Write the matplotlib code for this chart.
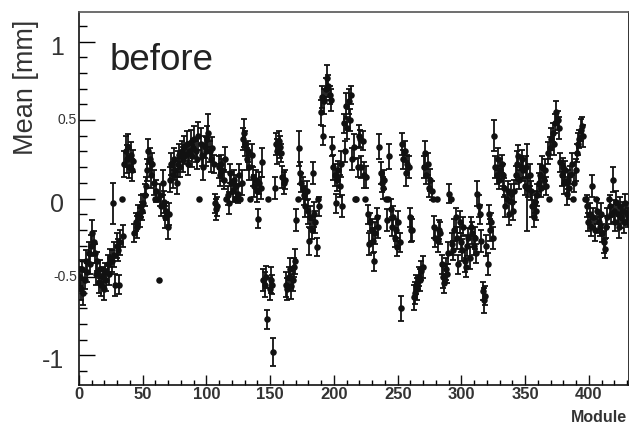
import matplotlib
matplotlib.use("Agg")

import numpy as np
import matplotlib.pyplot as plt
from matplotlib.ticker import MultipleLocator

plt.rcParams["font.family"] = ["Liberation Sans", "DejaVu Sans"]

# ── data: mean residual per module ────────────────────────────────────────────
MEAN = [
    -0.50, -0.58, -0.45, -0.60, -0.52, -0.40, -0.47, -0.35, -0.42, -0.30,
    -0.22, -0.28, -0.35, -0.48, -0.40, -0.53, -0.45, -0.55, -0.50, -0.58,
    -0.47, -0.52, -0.42, -0.48, -0.38, -0.40, -0.03, -0.36, -0.55, -0.30,
    -0.33, -0.55, -0.28, 0.00, -0.24, 0.22, 0.30, 0.25, 0.33, 0.20,
    0.28, 0.18, 0.24, -0.22, -0.15, -0.18, -0.10, -0.12, -0.05, -0.08,
    -0.03, 0.02, 0.08, 0.18, 0.30, 0.25, 0.15, 0.22, 0.10, 0.00,
    0.05, 0.00, -0.52, 0.02, -0.05, 0.10, -0.02, -0.12, -0.08, -0.18,
    -0.10, 0.12, 0.22, 0.15, 0.25, 0.18, 0.10, 0.22, 0.28, 0.20,
    0.30, 0.25, 0.33, 0.28, 0.35, 0.22, 0.30, 0.36, 0.27, 0.32,
    0.38, 0.30, 0.25, 0.40, 0.00, 0.35, 0.28, 0.20, 0.33, 0.30,
    0.38, 0.42, 0.30, 0.25, 0.32, 0.22, -0.03, -0.07, -0.05, 0.20,
    0.15, 0.22, 0.18, 0.12, 0.25, 0.00, 0.02, -0.03, 0.16, 0.10,
    0.05, 0.12, 0.00, 0.08, 0.03, 0.15, 0.00, 0.10, 0.38, 0.42,
    0.35, 0.25, 0.30, 0.20, 0.00, 0.28, 0.14, 0.08, 0.12, 0.05,
    -0.13, 0.10, 0.07, 0.23, -0.52, -0.55, -0.50, -0.77, 0.00, -0.58,
    -0.52, -0.55, -0.98, 0.07, 0.35, 0.30, 0.37, 0.33, 0.29, 0.14,
    0.10, 0.12, -0.55, -0.58, -0.50, -0.45, -0.56, -0.52, -0.44, -0.40,
    -0.14, 0.00, 0.32, 0.16, 0.10, 0.07, 0.02, -0.05, 0.05, -0.08,
    -0.27, -0.12, -0.20, 0.16, -0.10, -0.15, -0.31, 0.00, -0.05, 0.55,
    0.65, 0.40, 0.62, 0.70, 0.77, 0.72, 0.66, 0.63, 0.33, 0.20,
    0.15, -0.03, 0.12, 0.18, 0.08, 0.22, -0.05, 0.48, 0.30, 0.59,
    0.45, 0.62, 0.50, 0.66, 0.25, 0.33, 0.00, 0.00, 0.20, 0.40,
    0.38, 0.20, 0.37, 0.15, 0.00, 0.14, -0.10, -0.29, -0.15, -0.20,
    -0.27, -0.40, -0.22, -0.12, -0.18, 0.33, 0.16, 0.10, 0.07, 0.12,
    0.00, -0.14, 0.00, 0.27, -0.07, -0.18, -0.12, -0.25, -0.20, -0.31,
    -0.15, -0.28, -0.70, 0.35, 0.25, 0.30, 0.16, 0.22, 0.20, -0.12,
    -0.20, -0.20, -0.63, -0.60, -0.55, -0.58, -0.50, -0.52, -0.46, -0.44,
    0.20, 0.29, 0.15, 0.22, 0.07, 0.12, 0.05, 0.00, -0.18, -0.25,
    0.00, -0.27, -0.20, -0.22, -0.42, -0.50, -0.54, -0.45, -0.48, -0.35,
    0.03, 0.00, -0.29, -0.33, -0.20, -0.12, -0.25, -0.42, -0.15, -0.28,
    -0.33, -0.18, -0.40, -0.44, -0.30, -0.25, -0.38, -0.18, -0.22, -0.30,
    -0.25, -0.35, 0.03, -0.05, -0.10, -0.27, -0.59, -0.65, -0.62, -0.30,
    -0.42, -0.10, -0.20, -0.15, -0.25, 0.40, 0.20, 0.15, 0.25, 0.12,
    0.18, 0.22, 0.15, 0.07, -0.05, 0.00, 0.05, -0.10, 0.03, -0.02,
    -0.08, 0.05, 0.15, 0.22, 0.27, 0.12, 0.20, 0.25, 0.18, 0.08,
    0.20, 0.07, 0.07, 0.15, 0.05, -0.05, -0.12, -0.02, -0.08, 0.02,
    0.10, 0.15, 0.07, 0.20, 0.12, 0.18, 0.08, 0.29, 0.00, 0.32,
    0.38, 0.42, 0.35, 0.48, 0.55, 0.50, 0.45, 0.23, 0.15, 0.20,
    0.10, 0.18, 0.03, 0.12, 0.07, 0.15, 0.22, 0.00, 0.10, 0.18,
    0.29, 0.35, 0.38, 0.44, 0.46, 0.40, 0.00, 0.00, -0.05, -0.15,
    -0.10, -0.18, 0.08, -0.12, -0.20, 0.00, -0.08, -0.15, -0.18, -0.10,
    -0.22, -0.28, -0.32, -0.18, -0.12, 0.00, -0.05, -0.10, 0.12, -0.08,
    -0.15, -0.02, -0.10, -0.18, -0.05, -0.12, -0.08, -0.15, -0.03, -0.10,
    -0.12,
]

# error on the mean (0 = empty module, drawn without a bar)
ERR = [
    .06, .07, .06, .08, .06, .07, .06, .07, .06, .07,
    .08, .07, .06, .07, .06, .07, .06, .07, .06, .07,
    .06, .07, .06, .07, .06, .07, .13, .08, .07, .08,
    .07, .06, .08, 0, .07, .08, .10, .09, .08, .07,
    .08, .07, .07, .06, .06, .07, .06, .06, .07, .06,
    .06, .07, .06, .07, .08, .07, .08, .07, .08, 0,
    .07, 0, 0, .07, .06, .08, .07, .07, .06, .08,
    .07, .08, .07, .08, .07, .06, .07, .08, .07, .06,
    .07, .08, .07, .06, .08, .07, .06, .08, .07, .06,
    .08, .07, .06, .09, 0, .10, .07, .08, .07, .09,
    .08, .12, .07, .08, .07, .06, .06, .07, .06, .07,
    .07, .06, .07, .06, .08, 0, .06, .07, .06, .07,
    .07, .06, 0, .07, .06, .07, 0, .08, .07, .09,
    .08, .07, .07, .08, 0, .07, .06, .07, .06, .07,
    .06, .07, .07, .09, .07, .08, .07, .06, 0, .07,
    .08, .06, .09, .07, .07, .08, .06, .07, .06, .07,
    .07, .06, .08, .07, .06, .07, .08, .07, .06, .08,
    .07, 0, .11, .07, .06, .07, .06, .07, .06, .08,
    .09, .07, .06, .07, .08, .07, .06, 0, .06, .08,
    .07, .06, .08, .07, .08, .07, .06, .07, .06, .08,
    .07, .06, .07, .06, .07, .08, .07, .06, .07, .08,
    .07, .08, .07, .06, .07, .08, 0, 0, .06, .07,
    .06, .07, .06, .08, 0, .07, .06, .07, .06, .07,
    .08, .06, .07, .06, .07, .08, .07, .06, .07, .06,
    0, .07, 0, .08, .07, .06, .07, .06, .07, .06,
    .07, .06, .08, .07, .06, .07, .08, .06, .07, .06,
    .08, .07, .08, .07, .06, .07, .06, .07, .06, .07,
    .07, .08, .06, .07, .06, .07, .06, 0, .07, .06,
    0, .07, .06, .07, .06, .07, .06, .07, .06, .07,
    .06, 0, .07, .06, .07, .06, .07, .06, .07, .06,
    .07, .06, .07, .06, .07, .06, .07, .06, .07, .06,
    .07, .06, .08, .07, .06, .07, .06, .08, .06, .07,
    .07, .06, .07, .06, .07, .10, .07, .06, .07, .06,
    .07, .06, .07, .06, .07, 0, .06, .07, .06, .07,
    .06, .07, .06, .08, .07, .06, .07, .06, .07, .06,
    .07, .28, .06, .07, .06, .07, .06, .07, .06, .07,
    .06, .07, .06, .07, .06, .07, .06, .07, 0, .07,
    .07, .06, .07, .06, .07, .06, .07, .06, .07, .06,
    .07, .06, .07, .06, .07, .06, .07, 0, .06, .07,
    .06, .07, .06, .07, .06, .07, 0, 0, .07, .06,
    .07, .06, .07, .06, .07, 0, .08, .07, .06, .07,
    .06, .07, .06, .07, .06, 0, .07, .06, .08, .07,
    .06, .07, .06, .07, .06, .07, .06, .07, .06, .07,
    .06,
]

Y_TICKS  = [-1, -0.5, 0, 0.5, 1]
Y_LABELS = ["-1", "-0.5", "0", "0.5", "1"]
X_TICKS  = [0, 50, 100, 150, 200, 250, 300, 350, 400]

INK  = "#111111"
GREY = "#333333"

# ── plot ──────────────────────────────────────────────────────────────────────
module = np.arange(len(MEAN)) + 0.5
mean   = np.array(MEAN)
err    = np.array(ERR)
has_err = err > 0

fig = plt.figure(figsize=(6.29, 4.29), dpi=100, facecolor="white")
ax = fig.add_axes([79 / 629, 44 / 429, 550 / 629, 373 / 429])

ax.errorbar(module[has_err], mean[has_err], yerr=err[has_err], fmt="none",
            ecolor=INK, elinewidth=1.3, capsize=2.0, capthick=1.3)
ax.plot(module, mean, "o", color=INK, ms=4.7, mew=0)

ax.set_xlim(0, 431.4)
ax.set_ylim(-1.19, 1.19)

ax.set_xticks(X_TICKS)
ax.xaxis.set_minor_locator(MultipleLocator(10))
ax.set_yticks(Y_TICKS)
ax.yaxis.set_minor_locator(MultipleLocator(0.1))
ax.set_yticklabels([])

ax.tick_params(axis="x", which="major", direction="in", length=7, width=1,
               labelsize=12, pad=1.5, colors=INK)
ax.tick_params(axis="x", which="minor", direction="in", length=3.5, width=1)
ax.tick_params(axis="y", which="major", direction="in", length=11.5, width=1)
ax.tick_params(axis="y", which="minor", direction="in", length=5.8, width=1)
for lab in ax.get_xticklabels():
    lab.set_fontweight("bold")
    lab.set_color(GREY)

# y tick labels: the integer ones are drawn larger, as in the original
ytrans = ax.get_yaxis_transform()
for val, txt in zip(Y_TICKS, Y_LABELS):
    if "." in txt:
        ax.text(-0.004, val, txt, transform=ytrans, ha="right", va="center",
                fontsize=10, color=GREY)
    else:
        ax.text(-0.027, val - 0.04, txt, transform=ytrans, ha="right",
                va="center", fontsize=18, color=GREY)

for side in ("left", "bottom", "top", "right"):
    ax.spines[side].set_linewidth(1.2)
    ax.spines[side].set_color(INK)
ax.spines["top"].set_color("#555555")

ax.text(0.055, 0.87, "before", transform=ax.transAxes, fontsize=26.5,
        color="#222222", va="center", ha="left")

fig.text(26 / 629, 1 - 87 / 429, "Mean [mm]", rotation=90, fontsize=19.5,
         color=GREY, ha="center", va="center")
fig.text(627 / 629, 1 - 418 / 429, "Module", fontsize=11.5, fontweight="bold",
         color=GREY, ha="right", va="center")

fig.savefig("out.png", dpi=100, facecolor="white")
plt.close()
